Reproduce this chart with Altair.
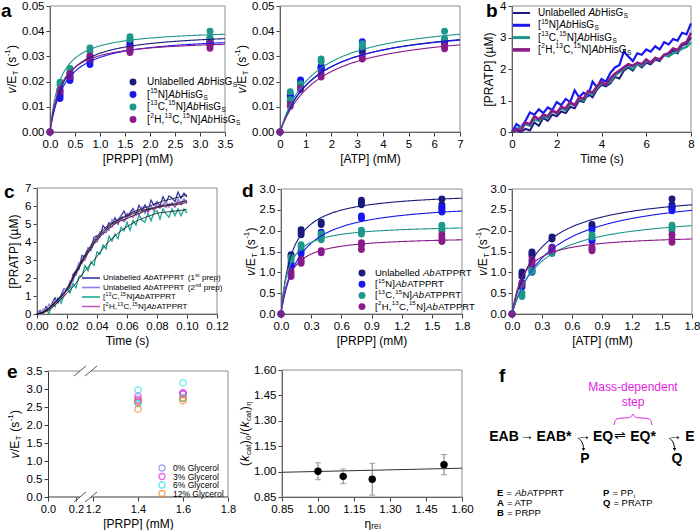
import altair as alt
import pandas as pd

FONT = "Liberation Sans"
W, H = 700, 530
AXIS_COLOR = "#3c3c3c"
FRAME_COLOR = "#8c8c8c"

# ---------------- series names and colours ----------------
his_series = ["Unlabelled AbHisGs", "[15N]AbHisGs", "[13C,15N]AbHisGs", "[2H,13C,15N]AbHisGs"]
prt_series = ["Unlabelled AbATPPRT", "[15N]AbATPPRT", "[13C,15N]AbATPPRT", "[2H,13C,15N]AbATPPRT"]
iso_colors = ["#1b1b7d", "#1717ee", "#1c988c", "#8a1c8a"]

# legend label pieces: (text, style) with n = normal, i = italic, b = bold, sup / sub = raised / lowered
iso_prefix = [
    [("Unlabelled ", "n")],
    [("[", "n"), ("15", "sup"), ("N]", "n")],
    [("[", "n"), ("13", "sup"), ("C,", "n"), ("15", "sup"), ("N]", "n")],
    [("[", "n"), ("2", "sup"), ("H,", "n"), ("13", "sup"), ("C,", "n"), ("15", "sup"), ("N]", "n")],
]
his_name = [("Ab", "i"), ("HisG", "n"), ("S", "sub")]
prt_name = [("Ab", "i"), ("ATPPRT", "n")]
rate_title = [("v", "i"), ("/E", "n"), ("T", "sub"), (" (s", "n"), ("-1", "sup"), (")", "n")]
ratio_title = [("(", "n"), ("k", "i"), ("cat", "sub"), (")", "n"), ("0", "sub"), ("/(", "n"),
               ("k", "i"), ("cat", "sub"), (")", "n"), ("η", "sub")]

# ---------------- panel a: AbHisGs, PRPP and ATP saturation ----------------
prpp_a = [0.0, 0.2, 0.4, 0.8, 1.6, 3.2]
rate_prpp_a = [
    [[0.0], [0.0150, 0.0162], [0.0218, 0.0232], [0.0288, 0.0300], [0.0340, 0.0350, 0.0362], [0.0352, 0.0362, 0.0372]],
    [[0.0], [0.0133, 0.0142], [0.0204, 0.0212], [0.0268, 0.0280], [0.0330, 0.0342], [0.0350, 0.0360]],
    [[0.0], [0.0188, 0.0198], [0.0240, 0.0252], [0.0320, 0.0333], [0.0368, 0.0378], [0.0365, 0.0372, 0.0400]],
    [[0.0], [0.0160, 0.0170], [0.0220, 0.0232], [0.0288, 0.0302], [0.0315, 0.0322, 0.0332], [0.0332, 0.0342, 0.0352]],
]
vmax_prpp_a = [0.0400, 0.0385, 0.0410, 0.0370]
km_prpp_a = [0.28, 0.30, 0.20, 0.22]

atp_a = [0.0, 0.4, 0.8, 1.6, 3.2, 6.4]
rate_atp_a = [
    [[0.0], [0.0120, 0.0128], [0.0188, 0.0195], [0.0255, 0.0262], [0.0318, 0.0328], [0.0358, 0.0365]],
    [[0.0], [0.0142, 0.0148], [0.0200, 0.0206], [0.0248, 0.0256], [0.0335, 0.0358], [0.0352, 0.0360]],
    [[0.0], [0.0128, 0.0160], [0.0185, 0.0192], [0.0280, 0.0290], [0.0340, 0.0350], [0.0370, 0.0400]],
    [[0.0], [0.0102, 0.0110], [0.0168, 0.0175], [0.0218, 0.0230], [0.0290, 0.0300], [0.0330, 0.0342]],
]
vmax_atp_a = [0.0440, 0.0435, 0.0460, 0.0420]
km_atp_a = [1.40, 1.35, 1.30, 1.50]

# ---------------- panel b: AbHisGs pre-steady-state traces ----------------
b_dt = 0.2
b_traces = [
    [0.00, 0.05, 0.00, 0.10, 0.05, 0.30, 0.20, 0.45, 0.35, 0.55, 0.50, 0.65, 0.60, 0.80, 0.75, 1.00, 0.95, 1.20, 1.10, 1.35,
     1.50, 1.45, 1.55, 1.75, 1.70, 1.95, 2.05, 1.95, 2.15, 2.05, 2.20, 2.15, 2.30, 2.25, 2.45, 2.40, 2.60, 2.50, 2.75, 2.80, 3.00],
    [0.00, 0.25, 0.15, 0.35, 0.62, 0.55, 0.72, 0.60, 0.78, 0.70, 0.95, 0.85, 1.05, 0.95, 1.32, 1.10, 1.25, 1.15, 1.60, 1.42,
     1.68, 1.60, 1.88, 2.05, 2.12, 2.55, 2.40, 2.25, 2.50, 2.45, 2.62, 2.55, 2.72, 2.62, 2.85, 2.78, 2.95, 2.90, 3.15, 3.10, 3.45],
    [0.00, 0.10, 0.15, 0.25, 0.20, 0.40, 0.35, 0.50, 0.45, 0.65, 0.60, 0.75, 0.70, 0.90, 0.85, 1.05, 1.00, 1.25, 1.20, 1.40,
     1.55, 1.50, 1.60, 1.80, 1.90, 2.00, 2.10, 2.00, 2.15, 2.10, 2.25, 2.20, 2.35, 2.30, 2.45, 2.40, 2.50, 2.55, 2.65, 2.70, 2.85],
    [0.00, 0.10, 0.05, 0.30, 0.25, 0.50, 0.40, 0.55, 0.50, 0.70, 0.60, 0.80, 0.75, 0.95, 0.85, 1.10, 1.05, 1.30, 1.25, 1.45,
     1.60, 1.50, 1.70, 1.85, 1.95, 2.05, 2.15, 2.10, 2.20, 2.15, 2.30, 2.20, 2.35, 2.30, 2.45, 2.50, 2.65, 2.60, 2.80, 2.85, 3.15],
]
b_widths = [2.0, 2.6, 2.6, 3.2]

# ---------------- panel c: AbATPPRT pre-steady-state traces ----------------
c_series = ["Unlabelled AbATPPRT (1st prep)", "Unlabelled AbATPPRT (2nd prep)",
            "[13C,15N]AbATPPRT", "[2H,13C,15N]AbATPPRT"]
c_labels = [
    iso_prefix[0] + prt_name + [(" (1", "n"), ("st", "sup"), (" prep)", "n")],
    iso_prefix[0] + prt_name + [(" (2", "n"), ("nd", "sup"), (" prep)", "n")],
    iso_prefix[2] + prt_name,
    iso_prefix[3] + prt_name,
]
c_colors = ["#3535a8", "#8a80e6", "#1fa697", "#c25ac2"]
c_dt = 0.002
c_traces = [
    [0.00, 0.20, 0.02, 0.42, 0.20, 0.60, 0.90, 0.62, 1.05, 1.40, 1.30, 1.47, 2.19, 2.41, 2.48, 3.25, 3.18, 3.66, 3.67, 4.26,
     4.35, 4.28, 4.91, 4.71, 5.08, 5.00, 5.35, 5.00, 5.44, 5.72, 5.35, 5.63, 5.86, 5.53, 6.04, 5.75, 6.06, 5.72, 6.33, 6.04,
     6.25, 6.01, 6.52, 6.17, 6.56, 6.45, 6.24, 6.78, 6.42, 6.71, 6.50],
    [0.00, -0.05, 0.27, 0.17, 0.55, 0.35, 0.75, 0.87, 0.80, 1.40, 1.30, 1.85, 1.80, 2.40, 2.87, 2.80, 3.27, 3.68, 3.53, 4.12,
     4.15, 4.58, 4.41, 4.80, 4.65, 5.25, 5.00, 5.25, 5.49, 5.17, 5.60, 5.41, 5.77, 5.48, 5.74, 5.95, 5.59, 5.93, 6.02, 5.71,
     6.20, 5.89, 6.08, 6.26, 5.93, 6.20, 5.94, 6.38, 6.17, 6.41, 6.20],
    [0.00, 0.13, -0.03, 0.29, 0.02, 0.55, 0.40, 0.90, 0.60, 1.05, 1.45, 1.17, 1.70, 1.45, 2.10, 2.10, 2.70, 2.40, 2.90, 2.70,
     3.45, 3.32, 3.84, 3.61, 4.32, 4.05, 4.44, 4.18, 4.81, 4.63, 5.10, 4.65, 5.20, 4.94, 5.52, 5.20, 5.11, 5.62, 5.18, 5.64,
     5.75, 5.27, 5.84, 5.56, 5.38, 5.85, 5.47, 5.84, 5.46, 5.83, 5.60],
    [0.00, 0.12, 0.05, 0.29, 0.23, 0.57, 0.50, 0.81, 1.03, 1.00, 1.43, 1.60, 2.07, 2.15, 2.61, 2.95, 2.99, 3.45, 3.56, 3.98,
     4.00, 4.33, 4.56, 4.50, 4.84, 4.82, 5.12, 5.05, 5.29, 5.13, 5.36, 5.48, 5.36, 5.65, 5.51, 5.70, 5.81, 5.65, 5.90, 5.76,
     6.02, 5.88, 6.08, 5.91, 6.11, 6.10, 5.96, 6.21, 6.06, 6.29, 6.15],
]
c_fit_dt = 0.005
c_fits = [
    [0, 0.15, 0.50, 0.90, 1.40, 2.20, 3.00, 3.70, 4.30, 4.75, 5.05, 5.30, 5.50, 5.70, 5.85, 6.00, 6.15, 6.30, 6.40, 6.50, 6.60],
    [0, 0.15, 0.50, 0.90, 1.40, 2.20, 2.95, 3.60, 4.20, 4.65, 5.00, 5.25, 5.45, 5.60, 5.75, 5.85, 5.95, 6.05, 6.10, 6.20, 6.30],
    [0, 0.10, 0.35, 0.75, 1.15, 1.60, 2.20, 2.70, 3.20, 3.75, 4.20, 4.55, 4.85, 5.10, 5.30, 5.45, 5.60, 5.65, 5.70, 5.75, 5.80],
    [0, 0.12, 0.45, 0.85, 1.35, 2.10, 2.85, 3.50, 4.10, 4.55, 4.90, 5.15, 5.30, 5.50, 5.65, 5.80, 5.90, 6.00, 6.05, 6.10, 6.20],
]

# ---------------- panel d: AbATPPRT, PRPP and ATP saturation ----------------
conc_d = [0.0, 0.1, 0.2, 0.4, 0.8, 1.6]
rate_prpp_d = [
    [[0.0], [1.38, 1.42], [1.90, 1.96, 2.02], [2.15, 2.20], [2.62, 2.68, 2.73], [2.55, 2.62, 2.76]],
    [[0.0], [1.15, 1.22], [1.45, 1.52], [1.90, 1.96], [2.30, 2.35], [2.45, 2.50, 2.56]],
    [[0.0], [1.30, 1.36], [1.60, 1.66], [1.78, 1.86, 1.92], [1.92, 1.96, 2.01], [2.00, 2.06, 2.13]],
    [[0.0], [0.90, 0.96, 1.02], [1.22, 1.26, 1.32], [1.47, 1.52], [1.55, 1.65, 1.71], [1.74, 1.82, 1.90]],
]
vmax_prpp_d = [2.95, 2.72, 2.15, 1.87]
km_prpp_d = [0.11, 0.18, 0.075, 0.09]

rate_atp_d = [
    [[0.0], [0.90, 0.96, 1.01], [1.40, 1.45, 1.49], [1.80, 1.85], [2.10, 2.15], [2.56, 2.62, 2.76]],
    [[0.0], [0.65, 0.75], [1.00, 1.05], [1.55, 1.60], [1.75, 1.80, 2.02], [2.48, 2.52, 2.56]],
    [[0.0], [0.42, 0.50], [1.02, 1.08], [1.45, 1.48], [1.85, 1.90], [2.00, 2.06, 2.13]],
    [[0.0], [0.70, 0.73], [1.20, 1.26, 1.31], [1.52, 1.58], [1.52, 1.56, 1.60], [1.72, 1.80, 1.90]],
]
vmax_atp_d = [3.00, 3.00, 2.45, 1.92]
km_atp_d = [0.26, 0.37, 0.28, 0.12]

# ---------------- panel e: viscosity effect ----------------
gly_series = ["0% Glycerol", "3% Glycerol", "6% Glycerol", "12% Glycerol"]
gly_colors = ["#8080f0", "#f01ef0", "#22e0e6", "#f5821f"]
prpp_e = [1.4, 1.6]
rate_e = [
    [[2.72, 2.62], [2.86, 2.74]],
    [[2.80, 2.68], [2.90, 2.86]],
    [[2.97, 2.60], [3.17, 2.76]],
    [[2.66, 2.44], [2.73, 2.67]],
]
eta_rel = [1.00, 1.105, 1.226, 1.525]
kcat_ratio = [1.002, 0.972, 0.955, 1.041]
kcat_err = [0.050, 0.043, 0.094, 0.060]
fit_eta = [0.85, 1.60]
fit_ratio = [0.996, 1.020]


# ---------------- helpers ----------------
def xaxis(bottom, title, values, fmt, **kw):
    return alt.Axis(orient="bottom", offset=bottom - H, title=title, values=values, format=fmt, **kw)


def yaxis(left, title, values, fmt, **kw):
    return alt.Axis(orient="left", offset=-left, title=title, values=values, format=fmt, **kw)


def lin(domain, rng):
    return alt.Scale(domain=domain, range=rng, nice=False, zero=False)


def frame(sx, sy, ax, ay, xd, yd):
    box = pd.DataFrame({"x0": [xd[0]], "x1": [xd[-1]], "y0": [yd[0]], "y1": [yd[-1]]})
    return alt.Chart(box).mark_rect(fill="transparent", stroke=FRAME_COLOR, strokeWidth=1).encode(
        x=alt.X("x0:Q", scale=sx, axis=ax), x2="x1",
        y=alt.Y("y0:Q", scale=sy, axis=ay), y2="y1")


def long_points(names, conc, reps):
    rows = []
    for name, per_series in zip(names, reps):
        for cv, vals in zip(conc, per_series):
            for v in vals:
                rows.append({"series": name, "conc": cv, "rate": v})
    return pd.DataFrame(rows)


def mm_panel(names, colors, conc, reps, vmax, km, xd, yd, sx, sy, ax, ay):
    cs = alt.Scale(domain=names, range=colors)
    pts = alt.Chart(long_points(names, conc, reps)).mark_circle(size=48, opacity=1).encode(
        x=alt.X("conc:Q", scale=sx, axis=ax), y=alt.Y("rate:Q", scale=sy, axis=ay),
        color=alt.Color("series:N", scale=cs, legend=None))
    params = pd.DataFrame({"series": names, "vmax": vmax, "km": km})
    xmax = xd[-1]
    curves = (alt.Chart(params)
              .transform_calculate(s=f"sequence(0, {xmax * 1.0001}, {xmax / 250})")
              .transform_flatten(["s"])
              .transform_calculate(v="datum.vmax * datum.s / (datum.km + datum.s)")
              .mark_line(strokeWidth=1.1)
              .encode(x=alt.X("s:Q", scale=sx, axis=ax), y=alt.Y("v:Q", scale=sy, axis=ay),
                      color=alt.Color("series:N", scale=cs, legend=None), detail="series:N"))
    return alt.layer(frame(sx, sy, ax, ay, xd, yd), pts, curves)


# ---------------- a ----------------
xa1 = [0, 3.5]
ya = [0, 0.05]
a1 = mm_panel(his_series, iso_colors, prpp_a, rate_prpp_a, vmax_prpp_a, km_prpp_a, xa1, ya,
              lin(xa1, [50, 225]), lin(ya, [132, 6]),
              xaxis(132, "[PRPP] (mM)", [0, 0.5, 1, 1.5, 2, 2.5, 3, 3.5], ".1f"),
              yaxis(50, None, [0, 0.01, 0.02, 0.03, 0.04, 0.05], ".2f"))
xa2 = [0, 7]
a2 = mm_panel(his_series, iso_colors, atp_a, rate_atp_a, vmax_atp_a, km_atp_a, xa2, ya,
              lin(xa2, [280, 460]), lin(ya, [132, 6]),
              xaxis(132, "[ATP] (mM)", [0, 1, 2, 3, 4, 5, 6, 7], "d"),
              yaxis(280, None, [0, 0.01, 0.02, 0.03, 0.04, 0.05], ".2f"))

# ---------------- b ----------------
xb, yb = [0, 8], [0, 4]
sxb, syb = lin(xb, [512, 691]), lin(yb, [132, 6])
axb = xaxis(132, "Time (s)", [0, 2, 4, 6, 8], "d")
ayb = yaxis(512, "[PRATP] (µM)", [0, 1, 2, 3, 4], "d")
b_rows = [{"series": n, "t": i * b_dt, "c": v}
          for n, tr in zip(his_series, b_traces) for i, v in enumerate(tr)]
b_lines = alt.Chart(pd.DataFrame(b_rows)).mark_line().encode(
    x=alt.X("t:Q", scale=sxb, axis=axb), y=alt.Y("c:Q", scale=syb, axis=ayb),
    color=alt.Color("series:N", scale=alt.Scale(domain=his_series, range=iso_colors), legend=None),
    strokeWidth=alt.StrokeWidth("series:N", scale=alt.Scale(domain=his_series, range=b_widths), legend=None),
)
b = alt.layer(frame(sxb, syb, axb, ayb, xb, yb), b_lines)

# ---------------- c ----------------
xc, yc = [0, 0.12], [0, 7]
sxc, syc = lin(xc, [37, 217]), lin(yc, [314, 188])
axc = xaxis(314, "Time (s)", [0, 0.02, 0.04, 0.06, 0.08, 0.1, 0.12], ".2f")
ayc = yaxis(37, "[PRATP] (µM)", [0, 1, 2, 3, 4, 5, 6, 7], "d")
c_rows = [{"series": n, "t": i * c_dt, "c": v}
          for n, tr in zip(c_series, c_traces) for i, v in enumerate(tr)]
c_fit_rows = [{"fit": k, "t": i * c_fit_dt, "c": v}
              for k, tr in enumerate(c_fits) for i, v in enumerate(tr)]
c_lines = alt.Chart(pd.DataFrame(c_rows)).mark_line(strokeWidth=1.3).encode(
    x=alt.X("t:Q", scale=sxc, axis=axc), y=alt.Y("c:Q", scale=syc, axis=ayc),
    color=alt.Color("series:N", scale=alt.Scale(domain=c_series, range=c_colors), legend=None))
c_fit_lines = alt.Chart(pd.DataFrame(c_fit_rows)).mark_line(
    strokeWidth=0.8, color="#111111", interpolate="monotone").encode(
    x=alt.X("t:Q", scale=sxc, axis=axc), y=alt.Y("c:Q", scale=syc, axis=ayc), detail="fit:N")
c = alt.layer(frame(sxc, syc, axc, ayc, xc, yc), c_lines, c_fit_lines)

# ---------------- d ----------------
xd_, yd_ = [0, 1.8], [0, 3.0]
ticks_d = [0, 0.3, 0.6, 0.9, 1.2, 1.5, 1.8]
ticks_vd = [0, 0.5, 1.0, 1.5, 2.0, 2.5, 3.0]
d1 = mm_panel(prt_series, iso_colors, conc_d, rate_prpp_d, vmax_prpp_d, km_prpp_d, xd_, yd_,
              lin(xd_, [281, 462]), lin(yd_, [314, 189]),
              xaxis(314, "[PRPP] (mM)", ticks_d, ".1f"),
              yaxis(281, None, ticks_vd, ".1f"))
d2 = mm_panel(prt_series, iso_colors, conc_d, rate_atp_d, vmax_atp_d, km_atp_d, xd_, yd_,
              lin(xd_, [512, 692]), lin(yd_, [314, 189]),
              xaxis(314, "[ATP] (mM)", ticks_d, ".1f"),
              yaxis(512, None, ticks_vd, ".1f"))

# ---------------- e (left): broken PRPP axis ----------------
ye = [0, 3.5]
sxe = alt.Scale(domain=[0, 0.2, 1.2, 1.8], range=[48, 76, 93, 228], nice=False, zero=False)
sye = lin(ye, [497, 371])
axe = xaxis(497, "[PRPP] (mM)", [0, 0.2, 1.2, 1.4, 1.6, 1.8], ".1f", domain=False, labelFontSize=11)
aye = yaxis(48, None, [0, 0.5, 1, 1.5, 2, 2.5, 3, 3.5], ".1f")
e_rows = [{"series": n, "conc": cval, "rate": v}
          for n, per in zip(gly_series, rate_e) for cval, vals in zip(prpp_e, per) for v in vals]
e_pts = alt.Chart(pd.DataFrame(e_rows)).mark_point(shape="circle", filled=False, size=40, strokeWidth=1.3).encode(
    x=alt.X("conc:Q", scale=sxe, axis=axe), y=alt.Y("rate:Q", scale=sye, axis=aye),
    color=alt.Color("series:N", scale=alt.Scale(domain=gly_series, range=gly_colors), legend=None))
# frame pieces either side of the axis break
gap_lo, gap_hi = 0.435, 1.08
frame_segs = pd.DataFrame({"x": [0, gap_hi, 1.8], "x2": [gap_lo, 1.8, 1.8], "y": [3.5, 3.5, 0], "y2": [3.5, 3.5, 3.5]})
axis_segs = pd.DataFrame({"x": [0, gap_hi], "x2": [gap_lo, 1.8], "y": [0, 0], "y2": [0, 0]})
e_frame = alt.Chart(frame_segs).mark_rule(color=FRAME_COLOR, strokeWidth=1).encode(
    x=alt.X("x:Q", scale=sxe, axis=axe), x2="x2", y=alt.Y("y:Q", scale=sye, axis=aye), y2="y2")
e_axis = alt.Chart(axis_segs).mark_rule(color=AXIS_COLOR, strokeWidth=1).encode(
    x=alt.X("x:Q", scale=sxe, axis=axe), x2="x2", y=alt.Y("y:Q", scale=sye, axis=aye), y2="y2")
# break marks "//" on the top and bottom edges
brk = pd.DataFrame({
    "mark": ["b1", "b1", "b2", "b2", "t1", "t1", "t2", "t2"],
    "x": [0.186, 0.788, 0.729, 1.218, 0.186, 0.788, 0.729, 1.218],
    "y": [-0.14, 0.14, -0.14, 0.14, 3.36, 3.64, 3.36, 3.64],
})
e_breaks = alt.Chart(brk).mark_line(color="#555555", strokeWidth=1).encode(
    x=alt.X("x:Q", scale=sxe, axis=axe), y=alt.Y("y:Q", scale=sye, axis=aye), detail="mark:N")
e1 = alt.layer(e_frame, e_axis, e_breaks, e_pts)

# ---------------- e (right): kcat ratio vs relative viscosity ----------------
xe2 = [0.85, 1.60]
sx2, sy2 = lin(xe2, [282, 462]), lin(xe2, [497, 370])
ax2 = xaxis(497, "ηᵣₑₗ", [0.85, 1.0, 1.15, 1.3, 1.45, 1.6], ".2f")
ay2 = yaxis(282, None, [0.85, 1.0, 1.15, 1.3, 1.45, 1.6], ".2f")
kdf = pd.DataFrame({"eta": eta_rel, "ratio": kcat_ratio, "err": kcat_err})
k_base = alt.Chart(kdf).transform_calculate(lo="datum.ratio - datum.err", hi="datum.ratio + datum.err")
k_bars = k_base.mark_rule(color="#7a7a7a", strokeWidth=1).encode(
    x=alt.X("eta:Q", scale=sx2, axis=ax2), y=alt.Y("lo:Q", scale=sy2, axis=ay2), y2="hi:Q")
k_caps = k_base.transform_fold(["lo", "hi"], as_=["end", "val"]).mark_tick(
    orient="horizontal", size=6, thickness=1, color="#7a7a7a").encode(
    x=alt.X("eta:Q", scale=sx2, axis=ax2), y=alt.Y("val:Q", scale=sy2, axis=ay2))
k_pts = alt.Chart(kdf).mark_circle(size=55, color="#000000", opacity=1).encode(
    x=alt.X("eta:Q", scale=sx2, axis=ax2), y=alt.Y("ratio:Q", scale=sy2, axis=ay2))
k_fit = alt.Chart(pd.DataFrame({"eta": fit_eta, "ratio": fit_ratio})).mark_line(
    color="#303030", strokeWidth=1).encode(
    x=alt.X("eta:Q", scale=sx2, axis=ax2), y=alt.Y("ratio:Q", scale=sy2, axis=ay2))
e2 = alt.layer(frame(sx2, sy2, ax2, ay2, xe2, xe2), k_fit, k_bars, k_caps, k_pts)

# ---------------- page annotations: titles, legends, panel letters, scheme f ----------------
sxa = alt.Scale(domain=[0, W], range=[0, W], nice=False, zero=False)
sya = alt.Scale(domain=[0, H], range=[0, H], nice=False, zero=False)
PX = dict(scale=sxa, axis=None)
PY = dict(scale=sya, axis=None)

# Arial / Liberation Sans advance widths (1/1000 em) for laying out mixed-style text
CW = {" ": 278, "[": 278, "]": 278, ",": 278, "(": 333, ")": 333, "%": 889, "-": 333, "=": 584,
      ".": 278, "*": 389, "/": 278, "A": 667, "B": 667, "C": 722, "D": 722, "E": 667, "G": 778,
      "H": 722, "N": 722, "P": 667, "Q": 778, "R": 722, "S": 667, "T": 611, "U": 722, "a": 556,
      "b": 556, "c": 500, "d": 556, "e": 556, "i": 222, "k": 500, "l": 222, "n": 556, "o": 556,
      "p": 556, "r": 333, "s": 500, "t": 278, "v": 500, "y": 500}
CW_BOLD = dict(CW, A=722, B=722)
GAP = 0.4


def text_width(s, fs, bold=False):
    table = CW_BOLD if bold else CW
    return sum(table.get(ch, 556) for ch in s) * fs / 1000.0


text_rows, dot_rows, ring_rows, stroke_rows = [], [], [], []


def put(label, x, y, fs, style="n", align="left", baseline="middle", col="#000000", angle=0):
    text_rows.append(dict(label=label, x=x, y=y, fs=fs, style=style, align=align,
                          baseline=baseline, col=col, ang=angle))


def seg_font(st, fs):
    if st == "sup":
        return fs * 0.65, -0.36 * fs, "n"
    if st == "sub":
        return fs * 0.65, 0.30 * fs, "n"
    return fs, 0.0, st


def put_rich(segs, x, y, fs, col="#000000", angle=0, center=False):
    total = sum(text_width(t, seg_font(st, fs)[0], bold=(st == "b")) + GAP for t, st in segs)
    cur = -total / 2 if center else 0.0
    for txt, st in segs:
        f, shift, s2 = seg_font(st, fs)
        lead = text_width(" " * (len(txt) - len(txt.lstrip(" "))), f)
        core = txt.strip(" ")
        if core:
            if angle == 270:
                put(core, x + shift, y - (cur + lead), f, s2, col=col, angle=270)
            else:
                put(core, x + cur + lead, y + shift, f, s2, col=col)
        cur += text_width(txt, f, bold=(st == "b")) + GAP


def legend(labels, colors, kind, sym_x, label_x, y0, dy, fs, size=48, widths=None, x2=None):
    for k, (segs, col) in enumerate(zip(labels, colors)):
        y = y0 + k * dy
        put_rich(segs, label_x, y, fs)
        if kind == "dot":
            dot_rows.append(dict(x=sym_x, y=y, col=col, sz=size))
        elif kind == "ring":
            ring_rows.append(dict(x=sym_x, y=y, col=col, sz=size))
        else:
            stroke_rows.append(dict(x=sym_x, x2=x2, y=y, col=col, sw=widths[k]))


# rotated y-axis titles with italic / sub- and superscript parts
for tx, ty in [(12, 69), (242, 69), (251, 251.5), (483, 251.5), (15, 434)]:
    put_rich(rate_title, tx, ty, 12, angle=270, center=True)
put_rich(ratio_title, 245, 433.5, 12, angle=270, center=True)

his_labels = [p + his_name for p in iso_prefix]
prt_labels = [p + prt_name for p in iso_prefix]
legend(his_labels, iso_colors, "dot", 133, 147, 82, 12.5, 10)
legend(his_labels, iso_colors, "stroke", 513, 538, 13, 12.3, 10, widths=[2.0, 3.0, 3.0, 3.6], x2=530)
legend(c_labels, c_colors, "stroke", 82, 103, 278, 9.5, 8, widths=[1.6] * 4, x2=100)
legend(prt_labels, iso_colors, "dot", 362, 375, 273, 11.2, 9.5)
legend([[(g, "n")] for g in gly_series], gly_colors, "ring", 162, 173, 468, 8.5, 8.5, size=36)

# panel letters
for letter, lx, ly in zip(["a", "b", "c", "d", "e", "f"], [1, 486, 4, 242, 7, 499],
                          [17, 17, 198, 197, 378, 382]):
    put(letter, lx, ly, 19, "b", baseline="alphabetic")

# scheme f: kinetic mechanism
for lab, cx, cy in zip(["EAB", "EAB*", "EQ", "EQ*", "E", "P", "Q"],
                       [504, 554, 603, 643, 690, 585, 677], [437, 437, 437, 437, 437, 459, 459]):
    put(lab, cx, cy, 14, "b", align="center")
for lab, cx in zip(["→", "→", "⇌", "→"], [527, 584, 620, 675]):
    put(lab, cx, 436, 14, "n", align="center")
put("Mass-dependent", 633, 387, 12, "n", align="center", col="#e01ee0")
put("step", 633, 402, 12, "n", align="center", col="#e01ee0")
put_rich([("E", "b"), (" = ", "n"), ("Ab", "i"), ("ATPPRT", "n")], 497, 493, 9.5)
put_rich([("A", "b"), (" = ATP", "n")], 497, 503, 9.5)
put_rich([("B", "b"), (" = PRPP", "n")], 497, 513, 9.5)
put_rich([("P", "b"), (" = PP", "n"), ("i", "sub")], 603, 493, 9.5)
put_rich([("Q", "b"), (" = PRATP", "n")], 603, 503, 9.5)

scheme_paths = pd.DataFrame({
    "path": ["h1"] * 4 + ["h2"] * 4 + ["brace"] * 11,
    "i": list(range(4)) * 2 + list(range(11)),
    "x": [578, 581, 583, 583.5, 669, 672, 674, 674.5,
          614, 615, 618, 630, 632, 633, 634, 636, 648, 651, 652],
    "y": [438, 440, 444, 448, 438, 440, 444, 448,
          425, 420, 418, 418, 416, 413, 416, 418, 418, 420, 425],
    "col": ["#000000"] * 8 + ["#e01ee0"] * 11,
})
heads = pd.DataFrame({"x": [583.5, 674.5], "y": [449.5, 449.5]})

STYLE = {"n": {}, "i": {"fontStyle": "italic"}, "b": {"fontWeight": "bold"}}
tdf = pd.DataFrame(text_rows)
ann_layers = []
for (st, al, bl), grp in tdf.groupby(["style", "align", "baseline"]):
    ann_layers.append(
        alt.Chart(grp.reset_index(drop=True)).mark_text(font=FONT, align=al, baseline=bl, **STYLE[st]).encode(
            x=alt.X("x:Q", **PX), y=alt.Y("y:Q", **PY), text="label:N",
            size=alt.Size("fs:Q", scale=None), color=alt.Color("col:N", scale=None),
            angle=alt.Angle("ang:Q", scale=None)))
ann_layers.append(alt.Chart(pd.DataFrame(dot_rows)).mark_circle(opacity=1).encode(
    x=alt.X("x:Q", **PX), y=alt.Y("y:Q", **PY),
    color=alt.Color("col:N", scale=None), size=alt.Size("sz:Q", scale=None)))
ann_layers.append(alt.Chart(pd.DataFrame(ring_rows)).mark_point(shape="circle", filled=False, strokeWidth=1.3).encode(
    x=alt.X("x:Q", **PX), y=alt.Y("y:Q", **PY),
    color=alt.Color("col:N", scale=None), size=alt.Size("sz:Q", scale=None)))
ann_layers.append(alt.Chart(pd.DataFrame(stroke_rows)).mark_rule().encode(
    x=alt.X("x:Q", **PX), x2="x2:Q", y=alt.Y("y:Q", **PY),
    color=alt.Color("col:N", scale=None), strokeWidth=alt.StrokeWidth("sw:Q", scale=None)))
ann_layers.append(alt.Chart(scheme_paths).mark_line(strokeWidth=1, interpolate="basis").encode(
    x=alt.X("x:Q", **PX), y=alt.Y("y:Q", **PY), detail="path:N", order="i:Q",
    color=alt.Color("col:N", scale=None)))
ann_layers.append(alt.Chart(heads).mark_point(shape="triangle-down", filled=True, size=12,
                                              color="#000000", opacity=1).encode(
    x=alt.X("x:Q", **PX), y=alt.Y("y:Q", **PY)))
ann = alt.layer(*ann_layers)

chart = (
    alt.layer(a1, a2, b, c, d1, d2, e1, e2, ann)
    .resolve_scale(x="independent", y="independent", color="independent", strokeWidth="independent")
    .resolve_axis(x="independent", y="independent")
    .properties(width=W, height=H, autosize=alt.AutoSizeParams(type="none"), padding=0)
    .configure_view(stroke=None)
    .configure_axis(labelFont=FONT, titleFont=FONT, labelFontSize=11.5, titleFontSize=12,
                    titleFontWeight="normal", labelColor="#000000", titleColor="#000000",
                    domainColor=AXIS_COLOR, tickColor=AXIS_COLOR, tickSize=4, labelPadding=2,
                    titlePadding=4, labelFlush=False, labelOverlap=False, grid=False, zindex=1)
)

chart.save("out.html", embed_options={"renderer": "svg", "actions": False})
